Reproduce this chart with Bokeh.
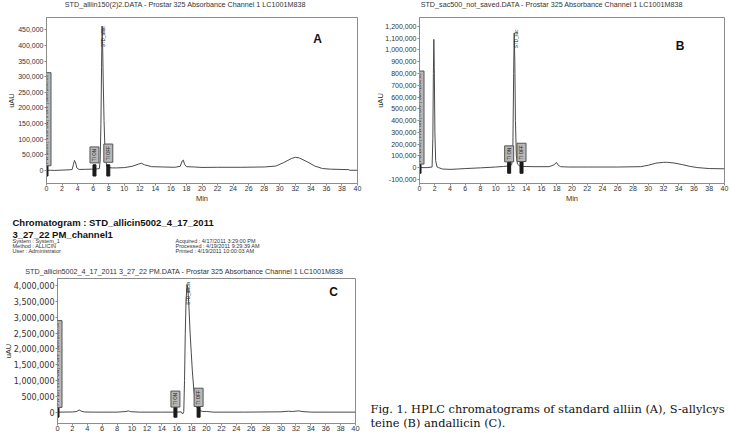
import numpy as np
from bokeh.plotting import figure
from bokeh.layouts import row, column
from bokeh.models import Range1d, FixedTicker, NumeralTickFormatter, Label
from bokeh.core.properties import value
from bokeh.embed import file_html
from bokeh.resources import INLINE

# ---------------- data ----------------
x_ticks = [0, 2, 4, 6, 8, 10, 12, 14, 16, 18, 20, 22, 24, 26, 28, 30, 32, 34, 36, 38, 40]

a_time = [0.0, 0.5, 1.0, 2.0, 3.0, 3.3, 3.45, 3.6, 3.75, 3.9, 4.2, 5.0, 5.8, 6.1, 6.3, 6.6, 6.8,
          6.9, 7.0, 7.08, 7.15, 7.22, 7.3, 7.4, 7.5, 7.6, 7.75, 7.9, 8.5, 9.0, 10.0, 11.0, 11.8,
          12.2, 12.6, 13.5, 15.0, 16.5, 17.2, 17.45, 17.6, 17.75, 18.0, 19.0, 20.0, 22.0, 25.0,
          28.0, 29.5, 30.5, 31.5, 32.0, 32.5, 33.5, 34.5, 35.5, 36.5, 38.0, 38.9, 39.0, 40.0]
a_signal = [0, 500, 0, 1000, 2000, 3000, 18000, 32000, 24000, 8000, 3000, 3500, 4000, 4200, 4500,
            5000, 6000, 30000, 150000, 330000, 462000, 400000, 280000, 160000, 80000, 35000,
            14000, 9000, 8000, 8000, 9000, 13000, 20000, 23000, 18000, 12000, 11000, 10000,
            13000, 30000, 33000, 20000, 12000, 11000, 9500, 10000, 10000, 11000, 14000, 25000,
            38000, 42000, 40000, 28000, 14000, 6000, 4000, 3000, 2500, 500, 500]
a_y_ticks = [0, 50000, 100000, 150000, 200000, 250000, 300000, 350000, 400000, 450000]

b_time = [0.0, 1.0, 1.65, 1.75, 1.82, 1.88, 1.94, 2.02, 2.12, 2.3, 2.5, 3.0, 4.0, 5.0, 6.0, 8.0,
          10.0, 11.0, 11.8, 12.1, 12.25, 12.35, 12.42, 12.5, 12.58, 12.7, 12.85, 13.1, 13.5, 15.0,
          17.0, 17.7, 17.95, 18.2, 18.5, 19.5, 22.0, 26.0, 29.0, 30.0, 31.0, 32.0, 32.5, 33.5,
          34.5, 35.5, 36.5, 38.0, 40.0]
b_signal = [0, 0, 5000, 250000, 800000, 1090000, 850000, 300000, 60000, 5000, 0, -12000, -15000,
            -12000, -8000, -2000, 5000, 10000, 15000, 25000, 200000, 800000, 1145000, 900000,
            400000, 100000, 30000, 15000, 10000, 8000, 8000, 25000, 45000, 20000, 8000, 5000,
            5000, 5000, 8000, 20000, 38000, 45000, 45000, 38000, 25000, 10000, 0, -8000, -10000]
b_y_ticks = [-100000, 0, 100000, 200000, 300000, 400000, 500000, 600000, 700000, 800000, 900000,
             1000000, 1100000, 1200000]

c_time = [0.0, 2.0, 2.6, 2.9, 3.2, 3.6, 5.0, 8.0, 9.2, 9.5, 9.8, 11.0, 14.0, 16.0, 16.6, 16.8,
          16.95, 17.05, 17.15, 17.25, 17.38, 17.5, 17.65, 17.8, 17.95, 18.1, 18.3, 18.5, 18.7,
          19.0, 19.5, 20.0, 21.0, 25.0, 30.0, 31.0, 31.5, 32.4, 32.8, 34.0, 40.0]
c_signal = [0, 5000, 20000, 70000, 30000, 5000, 0, 0, 20000, 40000, 15000, 0, 0, 0, 10000, -60000,
            20000, 1000000, 2500000, 3500000, 4040000, 3900000, 3300000, 2500000, 1900000,
            1300000, 700000, 350000, 150000, 60000, 20000, 20000, 0, 0, 10000, 30000, 20000,
            40000, 20000, 0, 0]
c_y_ticks = [0, 500000, 1000000, 1500000, 2000000, 2500000, 3000000, 3500000, 4000000]

# event boxes: (time, bottom value, text)
a_events = [(0.0, 15000, "PW 10.00 | VVW ON | II OFF | SMA 1000.00"), (6.17, 24000, "TI ON"), (7.95, 26000, "TI OFF")]
b_events = [(0.0, 30000, "PW 10.00 | VVW ON | II OFF | SMA 1000.00"), (11.76, 49000, "TI ON"), (13.38, 52000, "TI OFF")]
c_events = [(0.0, 150000, "PW 10 | VVW ON | II OFF | SMA 1000.00"), (15.83, 160000, "TI ON"), (18.94, 180000, "TI OFF")]

LINE = "#4a4a4a"
FRAME = "#8c8c8c"
TXT = "#333333"
SANS = "Liberation Sans"


def text_fig(w, h):
    f = figure(width=w, height=h, x_range=Range1d(0, w), y_range=Range1d(h, 0),
               output_backend="svg", toolbar_location=None, min_border=0,
               x_axis_location=None, y_axis_location=None, frame_align=False)
    f.grid.visible = False
    f.outline_line_color = None
    return f


def chrom(w, h, yr, yticks, borders, t, s, events, marker_h, peak, letter, xlabel=True,
          ylab_standoff=0, ylab_font=SANS, ylab_size="7px", xlab_size="7px"):
    bl, br, bt, bb = borders
    p = figure(width=w, height=h, x_range=Range1d(0, 40), y_range=Range1d(*yr),
               output_backend="svg", toolbar_location=None, frame_align=False,
               min_border_left=bl, min_border_right=br, min_border_top=bt, min_border_bottom=bb)
    p.grid.visible = False
    p.outline_line_color = FRAME
    p.outline_line_width = 1
    p.xaxis.ticker = FixedTicker(ticks=x_ticks, minor_ticks=[])
    p.yaxis.ticker = FixedTicker(ticks=yticks, minor_ticks=[])
    p.yaxis.formatter = NumeralTickFormatter(format="0,0")
    for ax in (p.xaxis[0], p.yaxis[0]):
        ax.axis_line_color = FRAME
        ax.major_tick_line_color = FRAME
        ax.major_tick_out = 2
        ax.major_tick_in = 0
        ax.major_label_text_color = TXT
        ax.axis_label_text_color = TXT
        ax.axis_label_text_font_style = "normal"
        ax.axis_label_text_font = SANS
    p.xaxis.major_label_text_font = SANS
    p.xaxis.major_label_text_font_size = xlab_size
    p.xaxis.major_label_standoff = 0
    p.yaxis.major_label_text_font = ylab_font
    p.yaxis.major_label_text_font_size = ylab_size
    p.yaxis.major_label_standoff = 1
    if xlabel:
        p.xaxis.axis_label = "Min"
        p.xaxis.axis_label_text_font_size = "7.5px"
        p.xaxis.axis_label_standoff = 0
    p.yaxis.axis_label = "uAU"
    p.yaxis.axis_label_text_font_size = "7.5px"
    p.yaxis.axis_label_standoff = ylab_standoff

    p.line(t, s, line_color=LINE, line_width=1)

    ex = [e[0] for e in events]
    p.rect(x=ex, y=[0] * len(ex), width=3, width_units="screen", height=marker_h,
           fill_color="#1a1a1a", line_color="#1a1a1a")
    for (x, y0, txt) in events:
        p.add_layout(Label(x=x, y=y0, text=txt, angle=np.pi / 2, text_align="left",
                           text_baseline="middle", text_font=SANS, text_font_size="4.5px",
                           text_color="#222222", background_fill_color="#b8b8b8",
                           border_line_color="#555555", border_line_width=1, padding=2))
    px, py, ptxt = peak
    p.add_layout(Label(x=px, y=py, text=ptxt, angle=np.pi / 2, text_align="left",
                       text_baseline="middle", text_font=SANS, text_font_size="4.5px",
                       text_color="#222222"))
    lx, ly, ltxt = letter
    p.add_layout(Label(x=lx, y=ly, text=ltxt, text_align="center", text_baseline="middle",
                       text_font=SANS, text_font_style="bold", text_font_size="12px",
                       text_color="#111111"))
    return p


# ---------------- row 1 ----------------
tA = text_fig(365, 16)
tA.text(x=[185], y=[4], text=["STD_alliin150(2)2.DATA - Prostar 325 Absorbance Channel 1 LC1001M838"],
        text_font=value(SANS), text_font_size="7.2px", text_align="center", text_baseline="middle",
        text_color=TXT)
pA = chrom(365, 189, (-41900, 489400), a_y_ticks, (46, 8, 1, 18), a_time, a_signal, a_events,
           36000, (7.3, 395000, "STD_alliin"), (34.86, 421900, "A"), ylab_standoff=-1)

tB = text_fig(365, 16)
tB.text(x=[186.5], y=[4], text=["STD_sac500_not_saved.DATA - Prostar 325 Absorbance Channel 1 LC1001M838"],
        text_font=value(SANS), text_font_size="7.2px", text_align="center", text_baseline="middle",
        text_color=TXT)
pB = chrom(365, 189, (-135000, 1276000), b_y_ticks, (54, 6, 1, 17), b_time, b_signal, b_events,
           96000, (12.77, 1017000, "STD_sac"), (34.19, 1037500, "B"), ylab_standoff=-3)

# ---------------- row 2 ----------------
hC = text_fig(365, 72)
hC.text(x=[12, 12], y=[17, 28.5],
        text=["Chromatogram : STD_allicin5002_4_17_2011", "3_27_22 PM_channel1"],
        text_font=value(SANS), text_font_style="bold", text_font_size="9.5px",
        text_align="left", text_baseline="middle", text_color="#111111")
hC.text(x=[12, 12, 12], y=[35, 40, 45],
        text=["System : System_1", "Method : ALLICIN", "User : Administrator"],
        text_font=value(SANS), text_font_size="5.5px", text_align="left", text_baseline="middle",
        text_color=TXT)
hC.text(x=[175, 175, 175], y=[35, 40, 45],
        text=["Acquired : 4/17/2011 3:29:00 PM", "Processed : 4/19/2011 9:29:39 AM",
              "Printed : 4/19/2011 10:00:03 AM"],
        text_font=value(SANS), text_font_size="5.5px", text_align="left", text_baseline="middle",
        text_color=TXT)
hC.text(x=[184], y=[66],
        text=["STD_allicin5002_4_17_2011 3_27_22 PM.DATA - Prostar 325 Absorbance Channel 1 LC1001M838"],
        text_font=value(SANS), text_font_size="7.2px", text_align="center",
        text_baseline="middle", text_color=TXT)
pC = chrom(365, 160, (-360000, 4233000), c_y_ticks, (54, 10, 1, 14), c_time, c_signal, c_events,
           320000, (17.6, 3404000, "STD_allicin"), (37.07, 3808600, "C"), xlabel=False,
           ylab_standoff=-2, ylab_font="DejaVu Sans", ylab_size="8px", xlab_size="7.5px")

cap = text_fig(365, 232)
cap.text(x=[5, 5], y=[203, 217.7],
         text=["Fig. 1. HPLC chromatograms of standard alliin (A), S-allylcys",
               "teine (B) andallicin (C)."],
         text_font=value("DejaVu Serif"), text_font_size="11.4px", text_align="left",
         text_baseline="middle", text_color="#111111")

layout = column(row(column(tA, pA), column(tB, pB)), row(column(hC, pC), cap))

open("out.html", "w").write(file_html(layout, INLINE))
